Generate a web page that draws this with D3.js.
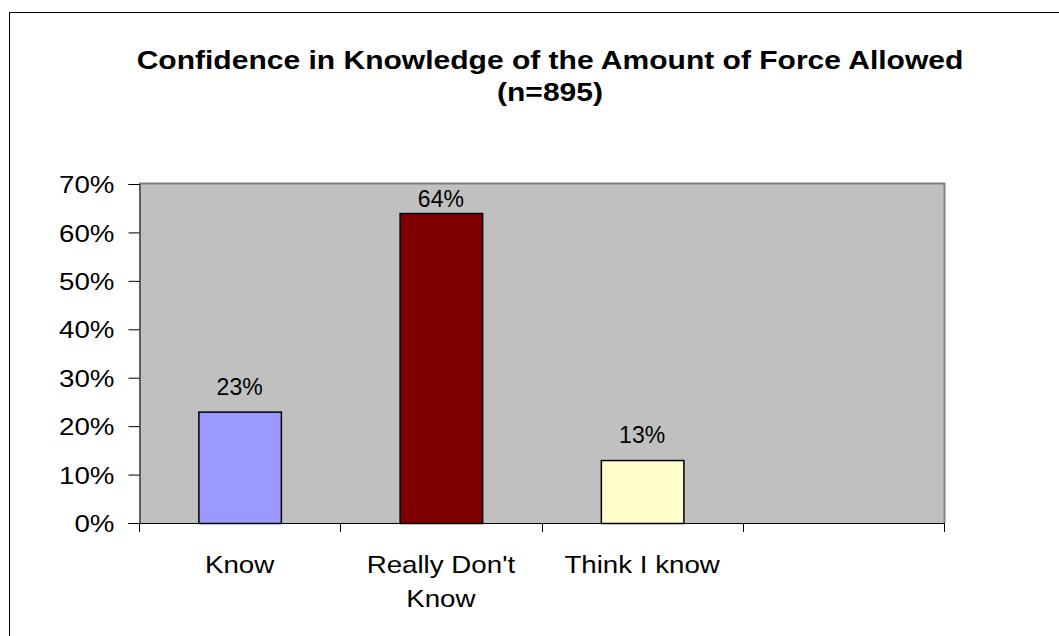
<!DOCTYPE html>
<html><head><meta charset="utf-8">
<script src="https://cdn.jsdelivr.net/npm/d3@7"></script>
<style>body{margin:0;background:#fff;} svg{display:block;} text{font-family:Arial,"Liberation Sans",sans-serif;}</style>
</head><body>
<svg id="c" width="1059" height="636"></svg>
<script>
const categories = ["Know", "Really Don't Know", "Think I know", ""];
const values = [23, 64, 13, null];
const colors = ["#9999FF", "#800000", "#FFFFCC", "none"];
const yTicks = [0, 10, 20, 30, 40, 50, 60, 70];
const titleLines = ["Confidence in Knowledge of the Amount of Force Allowed", "(n=895)"];

const SX = 1.155;
const svg = d3.select("#c");
svg.append("rect").attr("x", 9.5).attr("y", 12.5).attr("width", 1200).attr("height", 800)
  .attr("fill", "#fff").attr("stroke", "#000").attr("stroke-width", 1);

const L = 139, R = 944, T = 184, B = 523;
const x = d3.scaleBand().domain(categories.map((c, i) => i)).range([L, R]).paddingInner(0.59).paddingOuter(0.295);
const xb = d3.scaleBand().domain(categories.map((c, i) => i)).range([L, R]);
const y = d3.scaleLinear().domain([0, 70]).range([B, T]);

svg.append("rect").attr("x", L).attr("y", T).attr("width", R - L).attr("height", B - T).attr("fill", "#C0C0C0");
svg.append("line").attr("x1", L).attr("x2", R + 1).attr("y1", T - 0.5).attr("y2", T - 0.5).attr("stroke", "#808080").attr("stroke-width", 2);
svg.append("line").attr("x1", R + 0.5).attr("x2", R + 0.5).attr("y1", T - 1).attr("y2", B).attr("stroke", "#808080").attr("stroke-width", 2);

// title
svg.selectAll("text.title").data(titleLines).join("text").attr("class", "title")
  .attr("transform", (d, i) => `translate(550,${69 + i * 32}) scale(${SX},1)`).attr("text-anchor", "middle")
  .attr("font-size", 26).attr("font-weight", "bold").attr("fill", "#000").text(d => d);

// bars
const vals = values.map((v, i) => ({v, i})).filter(d => d.v != null);
svg.selectAll("rect.bar").data(vals).join("rect").attr("class", "bar")
  .attr("x", d => x(d.i) + 0.5).attr("width", x.bandwidth())
  .attr("y", d => y(d.v) + 0.5).attr("height", d => B - y(d.v))
  .attr("fill", d => colors[d.i]).attr("stroke", "#000").attr("stroke-width", 1.5);

svg.selectAll("text.lbl").data(vals).join("text").attr("class", "lbl")
  .attr("x", d => x(d.i) + x.bandwidth() / 2)
  .attr("y", d => Math.max(y(d.v) - 17, T + 23))
  .attr("text-anchor", "middle").attr("font-size", 23).attr("fill", "#000").text(d => d.v + "%");

// y axis
const ya = d3.axisLeft(y).tickValues(yTicks).tickFormat(d => d + "%").tickSize(11).tickPadding(25);
const yg = svg.append("g").attr("transform", `translate(${L + 0.5},0)`).call(ya);
yg.select(".domain").attr("stroke", "#000");
yg.selectAll(".tick line").attr("stroke", "#000");
yg.selectAll(".tick text").attr("font-size", 24).attr("fill", "#000")
  .attr("font-family", "Arial, 'Liberation Sans', sans-serif")
  .attr("x", 0).attr("dy", "0.36em").attr("transform", `translate(-25,0) scale(${SX},1)`);

// x axis
svg.append("line").attr("x1", L).attr("x2", R + 1).attr("y1", B + 0.5).attr("y2", B + 0.5).attr("stroke", "#000");
const tickX = categories.map((c, i) => xb(i)).concat([R]);
svg.selectAll("line.xt").data(tickX).join("line").attr("class", "xt")
  .attr("x1", d => Math.round(d) + 0.5).attr("x2", d => Math.round(d) + 0.5).attr("y1", B).attr("y2", B + 9).attr("stroke", "#000");

const wrap = {"Really Don't Know": ["Really Don't", "Know"]};
categories.forEach((c, i) => {
  const lines = wrap[c] || [c];
  svg.selectAll(null).data(lines).join("text").attr("class", "xl")
    .attr("transform", (l, j) => `translate(${xb(i) + xb.bandwidth() / 2},${573 + j * 34}) scale(${SX},1)`)
    .attr("text-anchor", "middle").attr("font-size", 24).attr("fill", "#000").text(l => l);
});
</script>
</body></html>
